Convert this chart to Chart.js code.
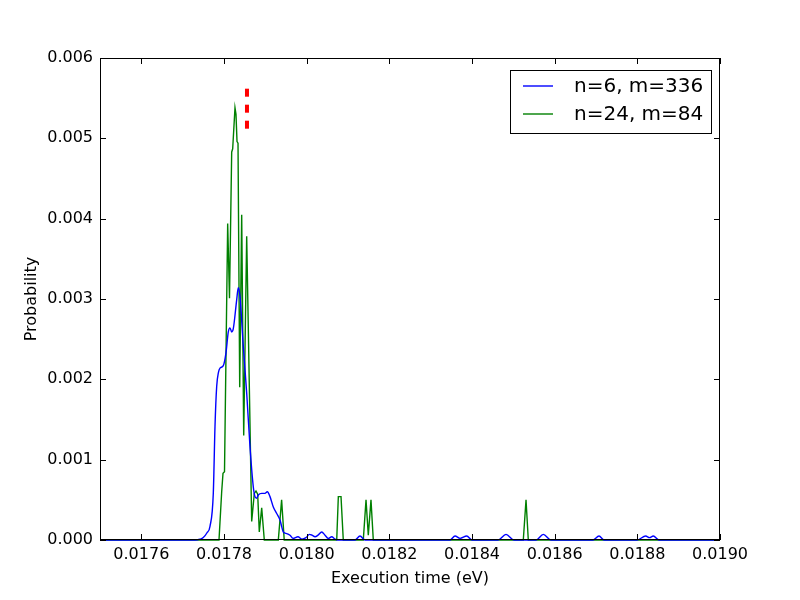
<!DOCTYPE html>
<html lang="en">
<head>
  <meta charset="UTF-8">
  <title>Execution time distribution</title>
  <script src="https://cdn.jsdelivr.net/npm/chart.js"></script>
  <style>
    body {
      margin: 0;
      background: #ffffff;
    }
  </style>
</head>
<body>
  <canvas id="grafico" width="800" height="600"></canvas>

  <script>
    // datos
    const blueX = [0.0175, 0.017730, 0.017742, 0.0177499, 0.0177589, 0.0177661, 0.0177741, 0.0177782, 0.0177823, 0.0177867,
      0.0177903, 0.0177983, 0.0178048, 0.0178104, 0.0178145, 0.0178186, 0.0178225, 0.0178307, 0.0178346, 0.0178387,
      0.0178467, 0.0178549, 0.0178629, 0.0178709, 0.0178750, 0.0178791, 0.0178830, 0.0178912, 0.0178992, 0.0179048,
      0.0179113, 0.0179193, 0.0179275, 0.0179355, 0.0179435, 0.0179517, 0.0179597, 0.0179669, 0.0179790, 0.0179887,
      0.0179984, 0.0180068, 0.0180129, 0.0180202, 0.0180274, 0.0180364, 0.0180444, 0.0180524, 0.0180606, 0.0180686,
      0.0180758, 0.0181169, 0.0181290, 0.0181411, 0.0183468, 0.0183589, 0.0183710, 0.0183872, 0.0184000, 0.0184629,
      0.0184823, 0.0185016, 0.0185549, 0.0185725, 0.0185911, 0.0186927, 0.0187073, 0.0187194, 0.0187992, 0.0188203,
      0.0188294, 0.0188386, 0.0188524, 0.0190];
    const blueY = [0, 0, 0.00001, 0.00003, 0.00009, 0.00017, 0.00058, 0.00141, 0.00191, 0.00209,
      0.00214, 0.00217, 0.00233, 0.00259, 0.00264, 0.00259, 0.00263, 0.00299, 0.00314, 0.00303,
      0.00241, 0.00183, 0.00116, 0.00066, 0.00054, 0.00052, 0.00056, 0.00058, 0.00058, 0.00060,
      0.00054, 0.00041, 0.00033, 0.00025, 0.00010, 0.00008, 0.00006, 0.00002, 0.00004, 0.00001,
      0.00003, 0.00007, 0.00006, 0.00004, 0.00006, 0.00010, 0.00006, 0.00002, 0.00004, 0.00001,
      0, 0, 0.00005, 0, 0, 0.00005, 0.00002, 0.00005, 0, 0,
      0.00007, 0, 0, 0.00007, 0, 0, 0.00005, 0, 0, 0.00005,
      0.00003, 0.00005, 0, 0];

    const greenX = [0.0175, 0.0177879, 0.0177944, 0.0177976, 0.0178012, 0.0178089, 0.0178133, 0.0178186, 0.0178210, 0.0178266,
      0.0178290, 0.0178315, 0.0178339, 0.0178380, 0.0178428, 0.0178477, 0.0178549, 0.0178670, 0.0178733, 0.0178774,
      0.0178815, 0.0178854, 0.0178912, 0.0178975, 0.0179314, 0.0179394, 0.0179457, 0.0180727, 0.0180766, 0.0180831,
      0.0180886, 0.0181370, 0.0181436, 0.0181491, 0.0181556, 0.0181612, 0.0185241, 0.0185307, 0.0185362, 0.0190];
    const greenY = [0, 0, 0.00060, 0.00083, 0.00085, 0.00394, 0.00301, 0.00483, 0.00487, 0.00538,
      0.00530, 0.00496, 0.00494, 0.00190, 0.00405, 0.00130, 0.00378, 0.00023, 0.00058, 0.00061,
      0.00057, 0.00010, 0.00040, 0, 0, 0.00050, 0, 0, 0.00054, 0.00054,
      0, 0, 0.00050, 0.00006, 0.00050, 0, 0, 0.00050, 0, 0];

    const markerX = [0.0178556, 0.0178556];
    const markerY = [0.00512, 0.00563];

    const xTicks = [0.0176, 0.0178, 0.0180, 0.0182, 0.0184, 0.0186, 0.0188, 0.0190];
    const yTicks = [0, 0.001, 0.002, 0.003, 0.004, 0.005, 0.006];

    const etiquetas = ['n=6, m=336', 'n=24, m=84'];

    function puntos(xs, ys) {
      return xs.map((x, i) => ({ x: x, y: ys[i] }));
    }

    // marco, ticks hacia adentro y leyenda
    const marco = {
      id: 'marco',
      afterDraw(chart) {
        const ctx = chart.ctx;
        const a = chart.chartArea;
        const sx = chart.scales.x;
        const sy = chart.scales.y;
        ctx.save();
        ctx.strokeStyle = '#000';
        ctx.lineWidth = 1;
        ctx.beginPath();
        xTicks.forEach(v => {
          const px = Math.round(sx.getPixelForValue(v)) + 0.5;
          ctx.moveTo(px, a.bottom); ctx.lineTo(px, a.bottom - 6);
          ctx.moveTo(px, a.top); ctx.lineTo(px, a.top + 6);
        });
        yTicks.forEach(v => {
          const py = Math.round(sy.getPixelForValue(v)) + 0.5;
          ctx.moveTo(a.left, py); ctx.lineTo(a.left + 6, py);
          ctx.moveTo(a.right, py); ctx.lineTo(a.right - 6, py);
        });
        ctx.stroke();
        ctx.strokeRect(Math.round(a.left) + 0.5, Math.round(a.top) + 0.5,
          Math.round(a.width) - 1, Math.round(a.height) - 1);

        // leyenda
        ctx.fillStyle = '#fff';
        ctx.fillRect(510.5, 70.5, 201, 63);
        ctx.strokeRect(510.5, 70.5, 201, 63);
        ctx.font = '20px "DejaVu Sans"';
        ctx.textBaseline = 'middle';
        [0, 1].forEach(i => {
          const ds = chart.data.datasets[i];
          const yy = 86 + i * 28;
          ctx.strokeStyle = ds.borderColor;
          ctx.lineWidth = 1.4;
          ctx.beginPath();
          ctx.moveTo(523, yy); ctx.lineTo(553, yy);
          ctx.stroke();
          ctx.fillStyle = '#000';
          ctx.fillText(ds.label, 574, yy + 1);
        });
        ctx.restore();
      }
    };

    Chart.defaults.font.family = 'DejaVu Sans';
    Chart.defaults.font.size = 16;
    Chart.defaults.color = '#000';

    new Chart(document.getElementById('grafico'), {
      type: 'line',
      data: {
        datasets: [
          {
            label: etiquetas[0],
            data: puntos(blueX, blueY),
            borderColor: '#0000ff',
            borderWidth: 1.4,
            pointRadius: 0,
            cubicInterpolationMode: 'monotone',
            clip: 3
          },
          {
            label: etiquetas[1],
            data: puntos(greenX, greenY),
            borderColor: '#008000',
            borderWidth: 1.4,
            pointRadius: 0,
            tension: 0,
            clip: 3
          },
          {
            label: 'marca',
            data: puntos(markerX, markerY),
            borderColor: '#ff0000',
            borderWidth: 4,
            borderDash: [8, 8],
            pointRadius: 0
          }
        ]
      },
      options: {
        responsive: false,
        animation: false,
        layout: { padding: { left: 0, top: 58, right: 80, bottom: 0 } },
        plugins: {
          legend: { display: false },
          tooltip: { enabled: false }
        },
        scales: {
          x: {
            type: 'linear',
            min: 0.0175,
            max: 0.0190,
            grid: { display: false, drawTicks: false },
            border: { display: false },
            afterBuildTicks: s => { s.ticks = xTicks.map(v => ({ value: v })); },
            afterFit: s => { s.height = 60; },
            ticks: { padding: 5, maxRotation: 0, callback: v => v.toFixed(4) },
            title: { display: true, text: 'Execution time (eV)', padding: { top: 0, bottom: 12 } }
          },
          y: {
            min: 0,
            max: 0.006,
            grid: { display: false, drawTicks: false },
            border: { display: false },
            afterBuildTicks: s => { s.ticks = yTicks.map(v => ({ value: v })); },
            afterFit: s => { s.width = 100; },
            ticks: { padding: 7, callback: v => v.toFixed(3) },
            title: { display: true, text: 'Probability', padding: { top: 22, bottom: 0 } }
          }
        }
      },
      plugins: [marco]
    });
  </script>
</body>
</html>
